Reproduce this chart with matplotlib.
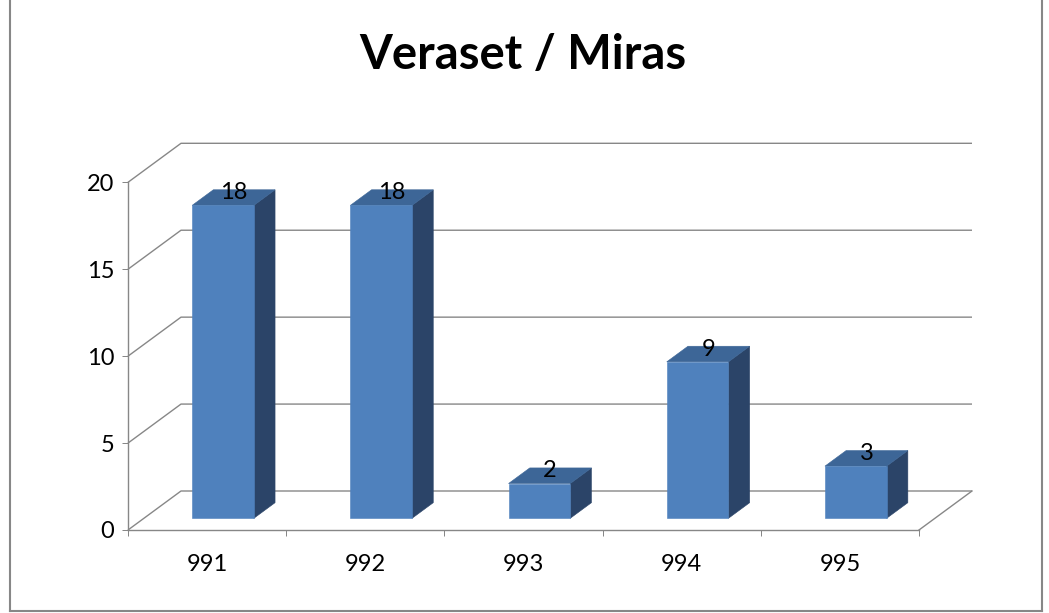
import matplotlib
matplotlib.use('Agg')
import matplotlib.pyplot as plt
from matplotlib.patches import Polygon
from matplotlib.lines import Line2D

categories = ['991', '992', '993', '994', '995']
values = [18, 18, 2, 9, 3]
y_ticks = [0, 5, 10, 15, 20]
title = 'Veraset / Miras'

W, H = 1049, 613
FONT = ['Lato', 'DejaVu Sans']
plt.rcParams['font.family'] = FONT

fig = plt.figure(figsize=(W / 100, H / 100), dpi=100)
ax = fig.add_axes([128 / W, (H - 530) / H, (919 - 128) / W, (530 - 182.3) / H])
n = len(categories)
ax.set_xlim(0, n)
ax.set_ylim(0, max(y_ticks))
ax.patch.set_visible(False)

# oblique depth (full depth of the plot box) expressed in data units
kx = 53 / 158.2
ky = 39 / 17.385


def P(x, y, d):
    return (x + d * kx, y + d * ky)


grid_c = '#878787'
for v in y_ticks:
    ax.plot([0, kx, n + kx], [v, v + ky, v + ky], color=grid_c, lw=1,
            clip_on=False, zorder=1, solid_capstyle='butt')
ax.plot([n, n + kx], [0, ky], color=grid_c, lw=1, clip_on=False, zorder=1)

front_c = '#4F81BD'
top_c = '#3D6697'
side_c = '#2B4468'
bw = 0.39
d0, d1 = 0.30, 0.70
for i, v in enumerate(values):
    x0 = i + 0.5 - bw / 2
    x1 = i + 0.5 + bw / 2
    front = [P(x0, 0, d0), P(x1, 0, d0), P(x1, v, d0), P(x0, v, d0)]
    side = [P(x1, 0, d0), P(x1, 0, d1), P(x1, v, d1), P(x1, v, d0)]
    top = [P(x0, v, d0), P(x1, v, d0), P(x1, v, d1), P(x0, v, d1)]
    for poly, c in ((side, side_c), (top, top_c), (front, front_c)):
        ax.add_patch(Polygon(poly, closed=True, facecolor=c, edgecolor=c,
                             lw=0.4, clip_on=False, zorder=3))
    ax.annotate(str(v), xy=P(i + 0.5, v, 0.5), xytext=(0, 3.6),
                textcoords='offset points', ha='center', va='center',
                fontsize=17, color='black', zorder=5, annotation_clip=False)

for s in ('top', 'right'):
    ax.spines[s].set_visible(False)
for s in ('left', 'bottom'):
    ax.spines[s].set_color(grid_c)
    ax.spines[s].set_linewidth(1)
    ax.spines[s].set_zorder(2)

ax.set_yticks(y_ticks)
ax.set_yticklabels([str(t) for t in y_ticks])
ax.tick_params(axis='y', direction='out', length=4.3, width=0.72,
               color=grid_c, pad=5.5, labelsize=17)
ax.set_xticks(range(n + 1))
ax.set_xticklabels([''] * (n + 1))
ax.set_xticks([i + 0.5 for i in range(n)], minor=True)
ax.set_xticklabels(categories, minor=True)
ax.tick_params(axis='x', which='major', direction='out', length=4.3,
               width=0.72, color=grid_c)
ax.tick_params(axis='x', which='minor', length=0, pad=17, labelsize=17)

fig.text(522.5 / W, 1 - 69 / H, title, ha='center', va='baseline',
         fontsize=34, fontweight='bold')

# chart area border
bc = '#878787'
bx0, bx1, by0 = 9.5 / W, 1042 / W, (H - 611) / H
fig.add_artist(Line2D([bx0, bx0], [by0, 1.01], transform=fig.transFigure, color=bc, lw=1.5))
fig.add_artist(Line2D([bx1, bx1], [by0, 1.01], transform=fig.transFigure, color=bc, lw=1.5))
fig.add_artist(Line2D([bx0, bx1], [by0, by0], transform=fig.transFigure, color=bc, lw=1.5))

fig.savefig('out.png', dpi=100)
